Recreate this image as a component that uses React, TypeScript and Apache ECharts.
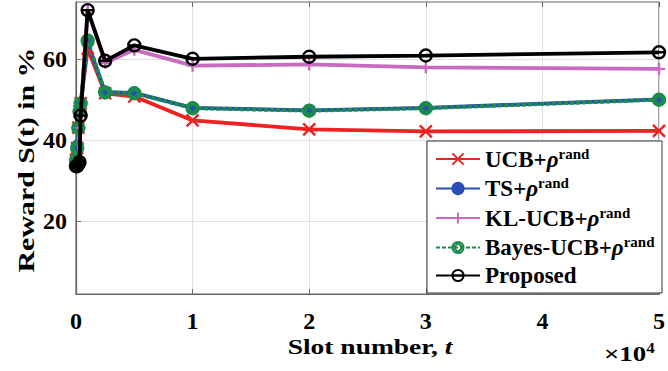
import React, { useEffect, useRef } from "react";
import * as echarts from "echarts";

const slots = [0, 100, 200, 300, 400, 1000, 2500, 5000, 10000, 20000, 30000, 50000];
const ucb = [35, 38, 43, 47, 49, 62.5, 51.5, 50.7, 44.8, 42.6, 42.1, 42.2];
const ts = [35, 38.5, 43, 47, 49, 64, 51.8, 51.6, 47.9, 47.3, 47.9, 50];
const klucb = [33, 35, 39, 43, 47, 72, 59, 62.2, 58.3, 58.6, 57.9, 57.5];
const bayes = [35, 38, 43, 47, 49, 64.5, 51.7, 51.5, 47.8, 47.2, 47.8, 49.9];
const proposed = [33.5, 33.5, 34, 34.5, 46, 72, 59.5, 63.3, 60, 60.5, 60.8, 61.6];
const yTicks = [20, 40, 60];
const legendNames = ["UCB", "TS", "KL-UCB", "Bayes-UCB", "Proposed"];

const FONT = "Liberation Serif";

const pair = (ys: number[]) => slots.map((x, i) => [x, ys[i]]);

export default function App() {
  const ref = useRef<HTMLDivElement>(null);
  useEffect(() => {
    const chart = echarts.init(ref.current!, null, { renderer: "svg" });
    const lbl = { fontFamily: FONT, fontWeight: "bold", fontSize: 24, color: "#000" };
    const mk = (name: string, data: number[], color: string, symbol: string, extra: any = {}) => ({
      name,
      type: "line",
      data: pair(data),
      symbol,
      symbolSize: 12,
      showSymbol: true,
      lineStyle: { color, width: 3.8, ...(extra.lineStyle || {}) },
      itemStyle: extra.itemStyle || { color: "none", borderColor: color, borderWidth: 2.4 },
      z: extra.z || 2,
    });
    chart.setOption({
      animation: false,
      grid: { left: 76, top: 2, right: 6, bottom: 77, show: true, borderColor: "#666", borderWidth: 1.2 },
      xAxis: [
        {
          type: "value",
          min: 0,
          max: 50000,
          interval: 10000,
          axisLine: { lineStyle: { color: "#666", width: 1.2 } },
          axisTick: { inside: true, length: 5, lineStyle: { color: "#666" } },
          splitLine: { show: true, lineStyle: { color: "#e0e0e0", width: 1 } },
          axisLabel: { ...lbl, margin: 15, formatter: (v: number) => String(v / 10000) },
        },
        {
          type: "value",
          position: "top",
          min: 0,
          max: 50000,
          interval: 10000,
          axisLine: { show: false },
          axisTick: { inside: true, length: 5, lineStyle: { color: "#666" } },
          splitLine: { show: false },
          axisLabel: { show: false },
        },
      ],
      yAxis: [
        {
          type: "value",
          min: 2,
          max: 74,
          axisLine: { show: true, lineStyle: { color: "#666", width: 1.2 } },
          axisTick: { show: true, inside: true, length: 5, customValues: yTicks, lineStyle: { color: "#666" } },
          splitLine: { show: true, lineStyle: { color: "#e0e0e0", width: 1 } },
          axisLabel: { ...lbl, margin: 9, customValues: yTicks },
        },
      ],
      legend: {
        orient: "vertical",
        left: 435,
        top: 146,
        itemWidth: 44,
        itemHeight: 14,
        itemGap: 5,
        padding: 0,
        z: 5,
        data: legendNames,
        textStyle: {
          rich: {
            b: { fontFamily: FONT, fontWeight: "bold", fontSize: 23, lineHeight: 26, color: "#000" },
            r: { fontFamily: FONT, fontStyle: "italic", fontWeight: "bold", fontSize: 23, lineHeight: 26, color: "#000" },
            s: { fontFamily: FONT, fontWeight: "bold", fontSize: 15, lineHeight: 15, verticalAlign: "top", color: "#000" },
          },
        },
        formatter: (name: string) =>
          name === "Proposed" ? "{b|Proposed}" : `{b|${name}+}{r|ρ}{s|rand}`,
      },
      graphic: [
        {
          type: "rect",
          z: 4,
          shape: { x: 427, y: 141, width: 235, height: 152 },
          style: { fill: "#fff", stroke: "#333", lineWidth: 1 },
        },
        {
          type: "text",
          x: 26,
          y: 160,
          rotation: Math.PI / 2,
          scaleX: 1.3,
          style: {
            text: "Reward S(t) in %",
            font: `bold 23px ${FONT}`,
            fill: "#000",
            align: "center",
            verticalAlign: "middle",
          },
        },
        {
          type: "text",
          x: 370,
          y: 346,
          scaleX: 1.25,
          style: {
            text: "{b|Slot number, }{i|t}",
            align: "center",
            verticalAlign: "middle",
            rich: {
              b: { font: `bold 22px ${FONT}`, fill: "#000" },
              i: { font: `italic bold 22px ${FONT}`, fill: "#000" },
            },
          },
        },
        {
          type: "text",
          x: 604,
          y: 341,
          scaleX: 1.22,
          style: {
            text: "{a|×10}{s|4}",
            align: "left",
            verticalAlign: "top",
            rich: {
              a: { font: `bold 22px ${FONT}`, fill: "#000", lineHeight: 25 },
              s: { font: `bold 14px ${FONT}`, fill: "#000", lineHeight: 14, verticalAlign: "top" },
            },
          },
        },
      ],
      series: [
        mk("UCB", ucb, "#ee2222", "path://M0,0L10,10M10,0L0,10"),
        mk("TS", ts, "#2a4db8", "circle", { itemStyle: { color: "#2a4db8", borderColor: "#2a4db8", borderWidth: 1 } }),
        mk("KL-UCB", klucb, "#c86bc0", "path://M5,0L5,10M0,5L10,5"),
        mk("Bayes-UCB", bayes, "#1a8c4c",
          "path://M0,5A5,5 0 1,1 10,5A5,5 0 1,1 0,5ZM5,1L9,5L5,9L1,5Z",
          { lineStyle: { type: [4, 2] } }),
        mk("Proposed", proposed, "#000",
          "path://M0,5A5,5 0 1,1 10,5A5,5 0 1,1 0,5ZM0,5L10,5", { z: 3 }),
      ],
    });
    return () => chart.dispose();
  }, []);
  return <div ref={ref} style={{ width: 668, height: 371, position: "absolute", left: 0, top: 0 }} />;
}
